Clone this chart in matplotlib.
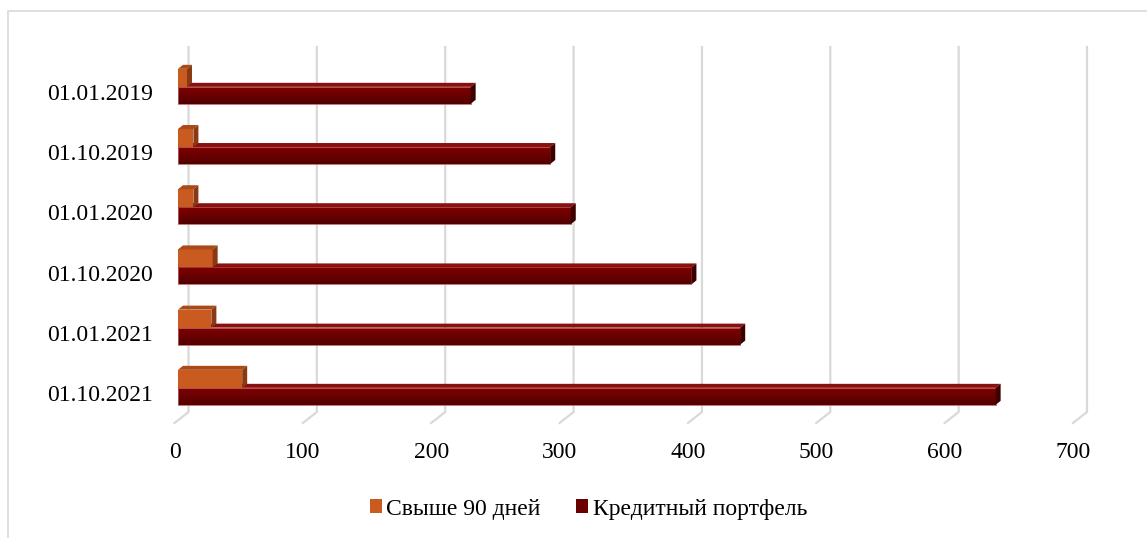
import numpy as np
import matplotlib
matplotlib.use("Agg")
import matplotlib.pyplot as plt
from matplotlib.patches import Polygon, Rectangle, Patch

# данные (млн руб.)
dates = ["01.01.2019", "01.10.2019", "01.01.2020", "01.10.2020", "01.01.2021", "01.10.2021"]
portfolio = [228, 290, 306, 400, 438, 637]
overdue90 = [7, 12, 12, 27, 26, 50]
series_names = ["Свыше 90 дней", "Кредитный портфель"]
x_ticks = [0, 100, 200, 300, 400, 500, 600, 700]

plt.rcParams['font.family'] = ['Liberation Serif', 'DejaVu Serif']

W, H = 1147, 538
fig = plt.figure(figsize=(W / 100, H / 100), dpi=100)

# оси: передняя плоскость 0 -> 174.5px, 700 -> 1073px; по вертикали 47..423px
px_left, px_right = 174.5, 1073
px_top, px_bot = 47, 423
ax = fig.add_axes([px_left / W, 1 - px_bot / H, (px_right - px_left) / W, (px_bot - px_top) / H])

sx = (px_right - px_left) / 700.0      # px на единицу
step = 60.2                            # px между категориями
y0 = 92                                # центр первой подписи
ax.set_xlim(0, 700)
ax.set_ylim((px_bot - y0) / step, (px_top - y0) / step)

# 3D смещения
back = 14 / sx
floor_y = (412 - y0) / step
dx, dy = 5 / sx, 4 / step
x0 = (178 - px_left) / sx

# сетка: задняя стенка + пол
for t in x_ticks:
    ax.plot([t + back, t + back, t], [ax.get_ylim()[1], floor_y, ax.get_ylim()[0]],
            color='#d9d9d9', lw=1.6, clip_on=False, zorder=1)


def box(x1, ytop, ybot, front, topc, sidec, grad=None):
    if grad is not None:
        g = np.linspace(0, 1, 50)[:, None, None]
        img = grad[0] * (1 - g) + grad[1] * g
        img = np.repeat(img, 2, axis=1)
        ax.imshow(img, extent=(x0, x1, ybot, ytop), origin='upper', aspect='auto', zorder=3)
        ax.add_patch(Rectangle((x0, ytop), x1 - x0, ybot - ytop, fill=False,
                               ec='#b86060', lw=0.6, zorder=3))
    else:
        ax.add_patch(Rectangle((x0, ytop), x1 - x0, ybot - ytop, fc=front,
                               ec='none', zorder=3))
    ax.add_patch(Polygon([(x0, ytop), (x0 + dx, ytop - dy), (x1 + dx, ytop - dy), (x1, ytop)],
                         closed=True, fc=topc, ec='none', zorder=3))
    ax.add_patch(Polygon([(x1, ytop), (x1 + dx, ytop - dy), (x1 + dx, ybot - dy), (x1, ybot)],
                         closed=True, fc=sidec, ec='none', zorder=3))


red_top = np.array([0x80, 0x00, 0x00]) / 255
red_bot = np.array([0x52, 0x00, 0x00]) / 255
for i, (p, o) in enumerate(zip(portfolio, overdue90)):
    box(x0 + p, i - 0.086, i + 0.196, None, '#8a1010', '#3c0000', grad=(red_top, red_bot))
    box(x0 + o, i - 0.385, i - 0.086, '#c95a20', '#a94a18', '#8a3a12')

ax.set_yticks(range(len(dates)))
ax.set_yticklabels(dates)
ax.set_xticks(x_ticks)
ax.tick_params(axis='y', length=0, pad=15.5, labelsize=17)
ax.tick_params(axis='x', length=0, pad=14, labelsize=17)
for s in ax.spines.values():
    s.set_visible(False)

handles = [Patch(fc='#c95a20', ec='none'), Patch(fc='#6a0000', ec='none')]
fig.legend(handles, series_names, loc='center', bbox_to_anchor=(588.5 / W, 1 - 509 / H),
           ncol=2, frameon=False, fontsize=17, handlelength=0.5, handleheight=0.5,
           handletextpad=0.2, columnspacing=1.5)

# рамка области диаграммы
fig.patches.append(Rectangle((8 / W, -0.2), 2, 1.2 - 11 / H, transform=fig.transFigure,
                             fill=False, ec='#d9d9d9', lw=1.2))

fig.savefig("out.png", dpi=100)
